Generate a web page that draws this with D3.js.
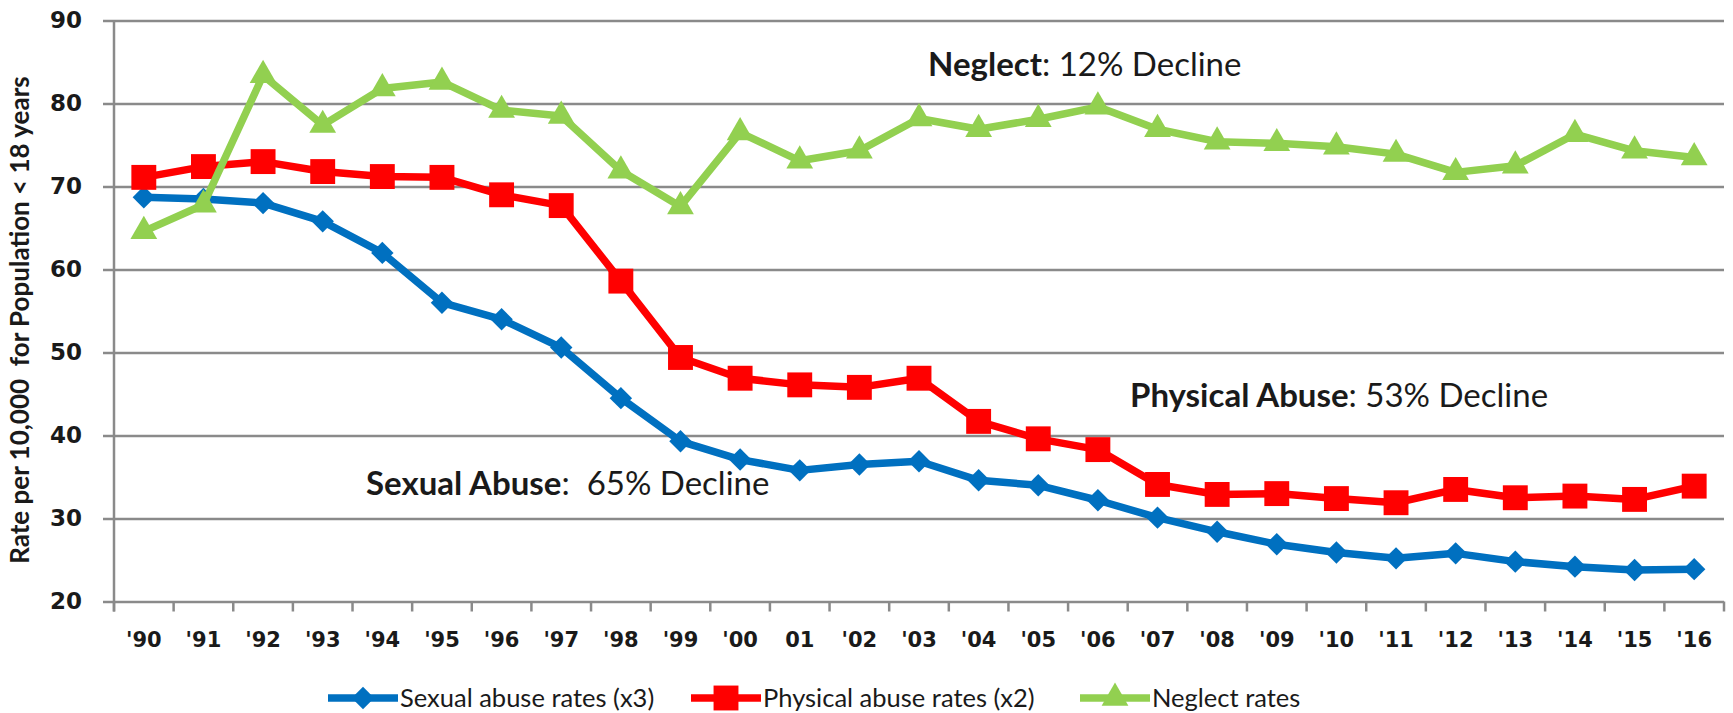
<!DOCTYPE html>
<html>
<head>
<meta charset="utf-8">
<script src="https://cdn.jsdelivr.net/npm/d3@7"></script>
<style>
  body { margin: 0; background: #fff; }
  svg { display: block; }
</style>
</head>
<body>
<div id="LineChart"></div>
<script>
var years = ["'90", "'91", "'92", "'93", "'94", "'95", "'96", "'97", "'98", "'99", "'00", "01", "'02",
    "'03", "'04", "'05", "'06", "'07", "'08", "'09", "'10", "'11", "'12", "'13", "'14", "'15", "'16"];
var sexualAbuse = [68.7, 68.5, 68.0, 65.8, 62.0, 56.0, 54.0, 50.6, 44.5, 39.3, 37.1, 35.8, 36.5,
    36.9, 34.6, 34.0, 32.2, 30.1, 28.4, 26.9, 25.9, 25.2, 25.8, 24.8, 24.2, 23.8, 23.9];
var physicalAbuse = [71.1, 72.4, 73.0, 71.8, 71.2, 71.1, 69.0, 67.7, 58.6, 49.4, 46.9, 46.1, 45.8,
    46.9, 41.7, 39.6, 38.3, 34.1, 32.9, 33.0, 32.4, 31.9, 33.5, 32.5, 32.7, 32.3, 33.9];
var neglect = [64.6, 67.8, 83.4, 77.4, 81.8, 82.6, 79.2, 78.5, 71.9, 67.6, 76.5, 73.1, 74.3,
    78.2, 76.9, 78.1, 79.6, 76.9, 75.4, 75.2, 74.8, 73.9, 71.7, 72.5, 76.3, 74.3, 73.5];
var yTicks = [20, 30, 40, 50, 60, 70, 80, 90];
var seriesNames = ["Sexual abuse rates (x3)", "Physical abuse rates (x2)", "Neglect rates"];

var W = 1733, H = 713;
var plotLeft = 114, plotRight = 1724, plotTop = 20.5, plotBottom = 601.5;
var labelFont = "'DejaVu Sans', Verdana, sans-serif";
var textFont = "Lato, 'Open Sans', sans-serif";
var grey = "#8a8a8a";

var svg = d3.select("#LineChart")
    .append("svg")
    .attr("width", W)
    .attr("height", H);

var xScale = d3.scaleBand()
    .domain(years)
    .range([plotLeft, plotRight])
    .padding(0);

var yScale = d3.scaleLinear()
    .domain([20, 90])
    .range([plotBottom, plotTop]);

var cx = function (i) { return xScale(years[i]) + xScale.bandwidth() / 2; };

// gridlines + y labels (axis hung from the right edge so ticks run across the plot)
var yAxis = svg.append("g")
    .attr("transform", "translate(" + plotRight + ",0)")
    .call(d3.axisLeft(yScale).tickValues(yTicks).tickSize(plotRight - 103).tickPadding(21))
yAxis.select(".domain").remove();
yAxis.selectAll("line").attr("stroke", grey).attr("stroke-width", 2.5);
yAxis.selectAll("text")
    .attr("fill", "#1a1a1a")
    .style("font-family", labelFont)
    .style("font-weight", "bold")
    .style("font-size", "23px");

// vertical axis line
svg.append("line")
    .attr("x1", plotLeft).attr("x2", plotLeft)
    .attr("y1", plotTop).attr("y2", plotBottom + 10)
    .attr("stroke", grey).attr("stroke-width", 2.5);

// x labels
var xAxis = svg.append("g")
    .attr("transform", "translate(0," + plotBottom + ")")
    .call(d3.axisBottom(xScale).tickSize(0).tickPadding(31))
xAxis.select(".domain").remove();
xAxis.selectAll("text")
    .attr("fill", "#1a1a1a")
    .style("font-family", labelFont)
    .style("font-weight", "bold")
    .style("font-size", "21px");

// tick marks between categories
svg.append("g")
    .selectAll("line")
    .data(years.concat(["end"]))
    .enter()
    .append("line")
    .attr("x1", function (d, i) { return i < years.length ? xScale(d) : plotRight; })
    .attr("x2", function (d, i) { return i < years.length ? xScale(d) : plotRight; })
    .attr("y1", plotBottom)
    .attr("y2", plotBottom + 10)
    .attr("stroke", grey).attr("stroke-width", 2.5);

// markers
var diamond = d3.symbol().type(d3.symbolDiamond2).size(320);
var square = d3.symbol().type(d3.symbolSquare).size(620);
var triangle = d3.symbol().type(d3.symbolTriangle).size(310);

var series = [
    { name: seriesNames[0], values: sexualAbuse, color: "#0070C0", symbol: diamond },
    { name: seriesNames[1], values: physicalAbuse, color: "#FF0000", symbol: square },
    { name: seriesNames[2], values: neglect, color: "#92D050", symbol: triangle }
];

var line = d3.line()
    .x(function (d, i) { return cx(i); })
    .y(function (d) { return yScale(d); });

series.forEach(function (s) {
    var g = svg.append("g");
    g.append("path")
        .attr("d", line(s.values))
        .attr("fill", "none")
        .attr("stroke", s.color)
        .attr("stroke-width", 7.5)
        .attr("stroke-linejoin", "round");
    g.selectAll("path.mark")
        .data(s.values)
        .enter()
        .append("path")
        .attr("class", "mark")
        .attr("d", s.symbol)
        .attr("transform", function (d, i) { return "translate(" + cx(i) + "," + yScale(d) + ")"; })
        .attr("fill", s.color);
});

// y axis title
svg.append("text")
    .attr("transform", "translate(29,320) rotate(-90)")
    .attr("text-anchor", "middle")
    .style("font-family", textFont)
    .style("font-weight", "bold")
    .style("font-size", "26px")
    .attr("fill", "#1a1a1a")
    .style("white-space", "pre")
    .text("Rate per 10,000  for Population < 18 years");

// annotations
var notes = [
    { bold: "Neglect", rest: ": 12% Decline", x: 928, y: 76 },
    { bold: "Physical Abuse", rest: ": 53% Decline", x: 1130, y: 407 },
    { bold: "Sexual Abuse", rest: ":  65% Decline", x: 366, y: 495 }
];
notes.forEach(function (n) {
    var t = svg.append("text")
        .attr("x", n.x).attr("y", n.y)
        .style("font-family", textFont)
        .style("font-size", "33px")
        .style("white-space", "pre")
        .attr("fill", "#1a1a1a");
    t.append("tspan").style("font-weight", "bold").text(n.bold);
    t.append("tspan").text(n.rest);
});

// legend
var legendX = [328, 691, 1080];
var legend = svg.append("g");
series.forEach(function (s, i) {
    var g = legend.append("g").attr("transform", "translate(" + legendX[i] + ",698)");
    g.append("line")
        .attr("x1", 0).attr("x2", 70)
        .attr("stroke", s.color).attr("stroke-width", 7.5);
    g.append("path")
        .attr("d", s.symbol)
        .attr("transform", "translate(35,0)")
        .attr("fill", s.color);
    g.append("text")
        .attr("x", 72).attr("y", 9)
        .style("font-family", textFont)
        .style("font-size", "25.5px")
        .attr("fill", "#1a1a1a")
        .text(s.name);
});
</script>
</body>
</html>
